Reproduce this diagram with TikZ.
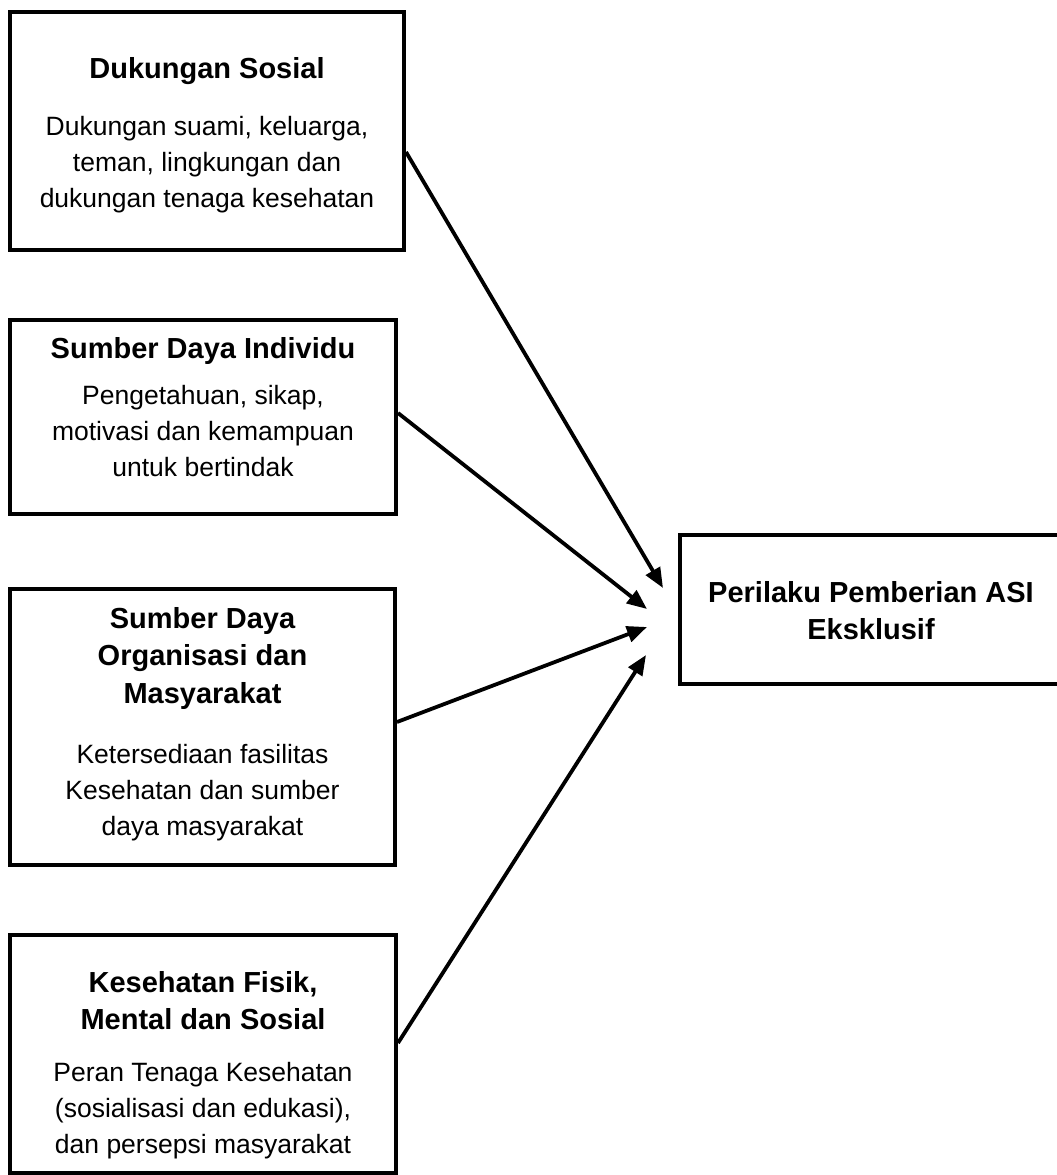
\documentclass[tikz,border=0pt]{standalone}
\usepackage{fontspec}
\setmainfont{Liberation Sans}
\usetikzlibrary{arrows.meta}
\begin{document}
\begin{tikzpicture}[x=1pt,y=-1pt,
  box/.style={draw, line width=4pt, rectangle, inner sep=0pt},
  ttl/.style={anchor=base, align=center, inner sep=0pt, font=\bfseries\fontsize{29}{37.5}\selectfont},
  body/.style={anchor=base, align=center, inner sep=0pt, font=\fontsize{26.5}{36}\selectfont},
  conn/.style={line width=3.8pt, -{Triangle[length=20pt,width=16pt]}}]
\useasboundingbox (0,0) rectangle (1057,1175);
% boxes
\node[box, minimum width=394pt, minimum height=238pt] (b1) at (207,131) {};
\node[box, minimum width=386pt, minimum height=194pt] (b2) at (203,417) {};
\node[box, minimum width=385pt, minimum height=276pt] (b3) at (202.5,727) {};
\node[box, minimum width=386pt, minimum height=238pt] (b4) at (203,1054) {};
\node[box, minimum width=382pt, minimum height=149pt] (b5) at (871,609.5) {};
% texts (base anchor = baseline of the last line)
\node[ttl] (t1) at (207,78) {Dukungan Sosial};
\node[body] (d1) at (207,207.5) {Dukungan suami, keluarga,\\teman, lingkungan dan\\dukungan tenaga kesehatan};
\node[ttl] (t2) at (203,358) {Sumber Daya Individu};
\node[body] (d2) at (203,476.5) {Pengetahuan, sikap,\\motivasi dan kemampuan\\untuk bertindak};
\node[ttl] (t3) at (202.5,703) {Sumber Daya\\Organisasi dan\\Masyarakat};
\node[body] (d3) at (202.5,835.5) {Ketersediaan fasilitas\\Kesehatan dan sumber\\daya masyarakat};
\node[ttl] (t4) at (203,1029.5) {Kesehatan Fisik,\\Mental dan Sosial};
\node[body] (d4) at (203,1153.5) {Peran Tenaga Kesehatan\\(sosialisasi dan edukasi),\\dan persepsi masyarakat};
\node[ttl] (t5) at (871,639.5) {Perilaku Pemberian ASI\\Eksklusif};
% arrow tips
\coordinate (e1) at (663,588);
\coordinate (e2) at (647,609);
\coordinate (e3) at (647,627);
\coordinate (e4) at (646,655);
% connectors
\draw[conn] (b1.east |- 0,152) -- (e1);
\draw[conn] (b2.east |- 0,413) -- (e2);
\draw[conn] (b3.east |- 0,722) -- (e3);
\draw[conn] (b4.east |- 0,1043) -- (e4);
\end{tikzpicture}
\end{document}
